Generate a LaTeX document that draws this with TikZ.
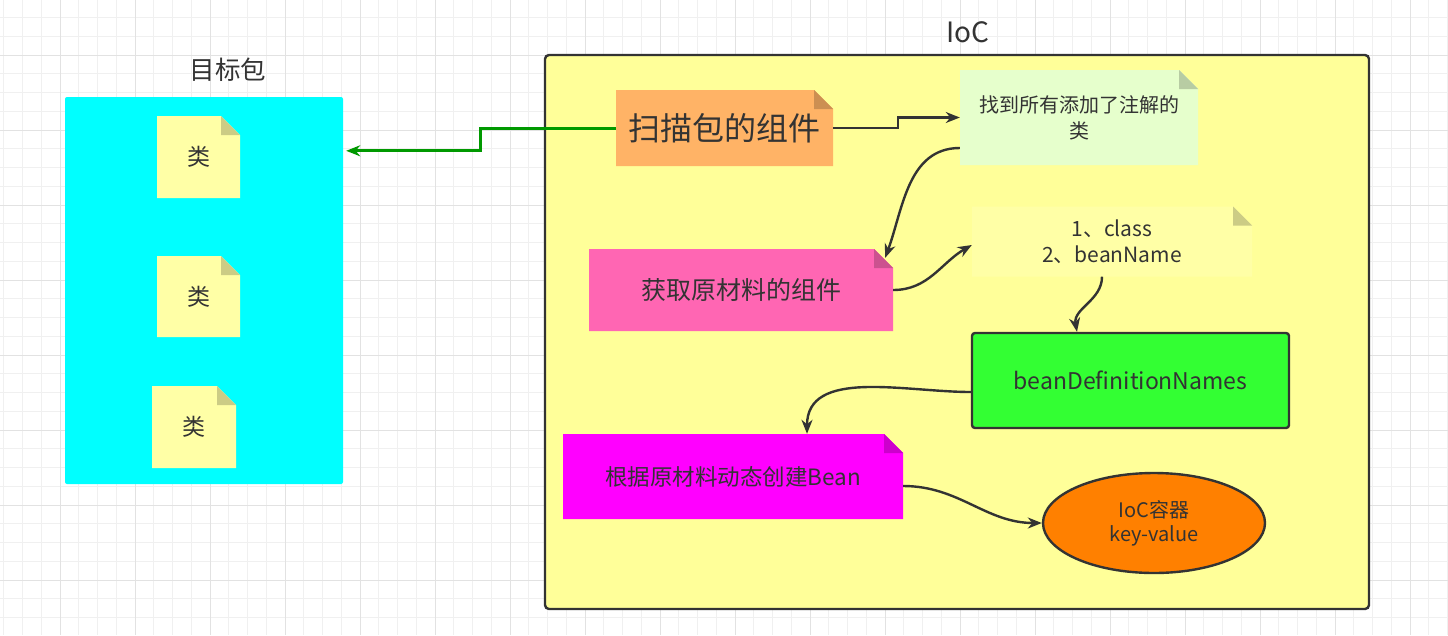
\documentclass[tikz,border=0pt]{standalone}
\usepackage{fontspec}
\setmainfont{Noto Sans CJK SC}
\usetikzlibrary{positioning, arrows.meta, shapes.geometric}

\definecolor{ink}{HTML}{333333}
\definecolor{gridminor}{HTML}{F0F0F0}
\definecolor{gridmajor}{HTML}{E2E2E2}
\definecolor{pkgcyan}{HTML}{00FFFF}
\definecolor{iocyellow}{HTML}{FFFF99}
\definecolor{clsyellow}{HTML}{FFFFA6}
\definecolor{scanorange}{HTML}{FFB366}
\definecolor{findgreen}{HTML}{E6FFCC}
\definecolor{rawpink}{HTML}{FF66B3}
\definecolor{namesgreen}{HTML}{33FF33}
\definecolor{buildmagenta}{HTML}{FF00FF}
\definecolor{maporange}{HTML}{FF8000}
\definecolor{linkgreen}{HTML}{009900}

\newcommand\pxfont[1]{\fontsize{#1}{26}\selectfont}

\tikzset{
  note/.style={inner sep=0pt, text=ink, align=center,
    path picture={
      \fill[#1] (path picture bounding box.south west) -- (path picture bounding box.south east)
        -- ([yshift=-19pt]path picture bounding box.north east)
        -- ([xshift=-19pt]path picture bounding box.north east)
        -- (path picture bounding box.north west) -- cycle;
      \fill[#1!80!black] ([xshift=-19pt]path picture bounding box.north east)
        -- ([yshift=-19pt]path picture bounding box.north east)
        -- ([shift={(-19pt,-19pt)}]path picture bounding box.north east) -- cycle;}},
  link/.style={->, ink, line width=2.4pt},
}

\begin{document}
\begin{tikzpicture}
  [x=1pt, y=-1pt, >={Stealth[length=14pt,width=11pt]}, text=ink]
   \useasboundingbox (0,0) rectangle (1448,635);
   \fill[white] (0,0) rectangle (1448,635);
   % grid
   \foreach \gx in {3.75,22.5,...,1448} \draw[gridminor, line width=1pt] (\gx,0) -- (\gx,635);
   \foreach \gy in {17.5,36.25,...,635} \draw[gridminor, line width=1pt] (0,\gy) -- (1448,\gy);
   \foreach \gx in {60,135,...,1448} \draw[gridmajor, line width=1pt] (\gx,0) -- (\gx,635);
   \foreach \gy in {55,130,...,635} \draw[gridmajor, line width=1pt] (0,\gy) -- (1448,\gy);

   % target package
   \node[font=\pxfont{25.5}] (pkgtitle) at (228,70) {目标包};
   \node[fill=pkgcyan, rounded corners=2pt, minimum width=278pt, minimum height=387pt] (pkg) at (204,290.5) {};
   \node[note=clsyellow, font=\pxfont{23}, minimum width=83pt, minimum height=82pt] (cls_1) at (198.5,157) {类};
   \node[note=clsyellow, font=\pxfont{23}, minimum width=83pt, minimum height=81pt] (cls_2) at (198.5,296.5) {类};
   \node[note=clsyellow, font=\pxfont{23}, minimum width=84pt, minimum height=82pt] (cls_3) at (194,427) {类};

   % IoC
   \node[font=\pxfont{28}] (ioctitle) at (968,32) {IoC};
   \node[fill=iocyellow, draw=ink, line width=2.4pt, rounded corners=4pt, minimum width=824pt, minimum height=554pt] (iocbox) at (957,332) {};
   \node[note=scanorange, font=\pxfont{32}, minimum width=217pt, minimum height=76pt] (scan) at (724.5,128) {扫描包的组件};
   \node[note=findgreen, font=\pxfont{20}, minimum width=238pt, minimum height=95pt] (find) at (1079,117.5) {找到所有添加了注解的\\类};
   \node[note=rawpink, font=\pxfont{25}, minimum width=304pt, minimum height=82pt] (raw) at (741,290) {获取原材料的组件};
   \node[note=clsyellow, font=\pxfont{21}, minimum width=280pt, minimum height=70pt] (names) at (1112,241.5) {1、class\\2、beanName};
   \node[fill=namesgreen, draw=ink, line width=2.4pt, rounded corners=3pt, font=\pxfont{23}, minimum width=317pt, minimum height=95pt] (bean) at (1130.5,380.5) {beanDefinitionNames};
   \node[note=buildmagenta, font=\pxfont{22.5}, minimum width=340pt, minimum height=85pt] (build) at (733,476.5) {根据原材料动态创建Bean};
   \node[ellipse, fill=maporange, draw=ink, line width=2.4pt, inner sep=0pt, font=\fontsize{20}{24}\selectfont, minimum width=222pt, minimum height=100pt, align=center] (map) at (1154,523) {IoC容器\\key-value};

   % connectors
   \draw[link] (scan.east) -- ++(65,0) |- (find.west);
   \draw[link, linkgreen, line width=3pt, shorten >=3pt] (scan.west) -- ++(-135,0) |- ([yshift=-54pt]pkg.north east);
   \path[link]
    ([yshift=-30.5pt]find.west) edge [out=180, in=70] ([shift={(-8pt,-9pt)}]raw.north east)
    (raw.east) edge [out=0, in=210] ([yshift=-3.5pt]names.west)
    ([xshift=-10pt]names.south) edge [out=-90, in=100] ([xshift=-53.5pt]bean.north)
    ([yshift=-11.5pt]bean.west) edge [out=180, in=90] ([xshift=74pt]build.north)
    ([yshift=-9.5pt]build.east) edge [out=0, in=180] (map.west);
\end{tikzpicture}
\end{document}
